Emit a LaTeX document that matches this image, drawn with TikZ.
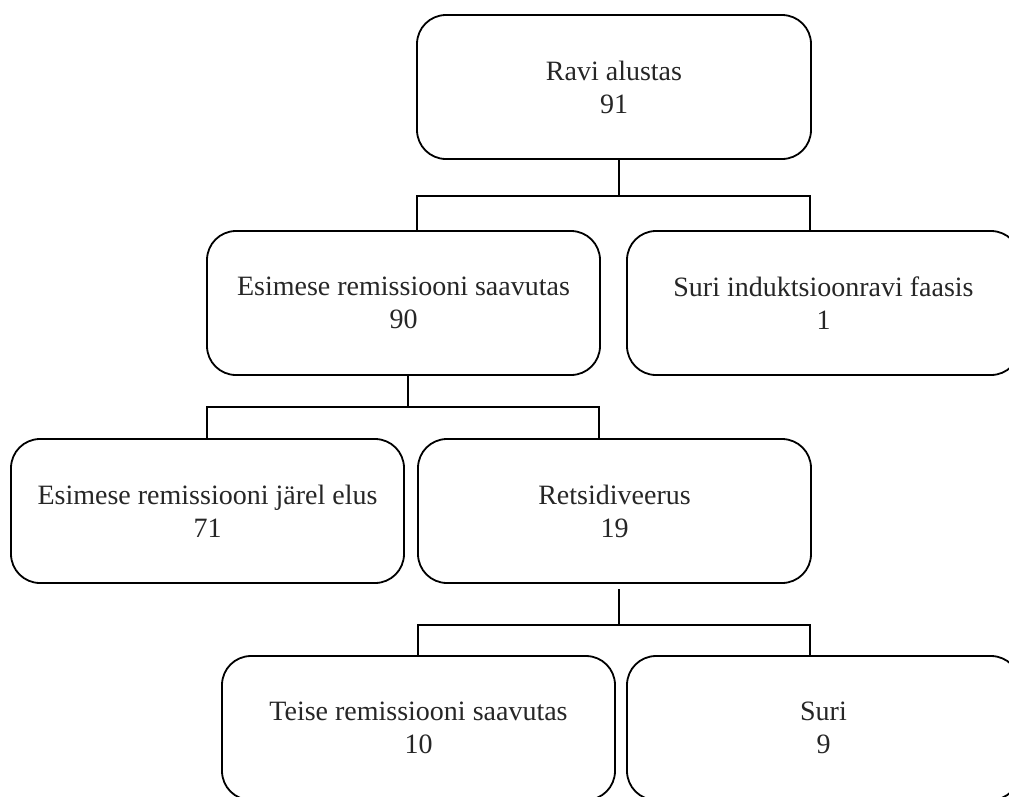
\documentclass[tikz,border=0pt]{standalone}
\usepackage{fontspec}
\setmainfont{Liberation Serif}
\begin{document}
\begin{tikzpicture}[x=1pt,y=-1pt,
  box/.style={draw=black, line width=1.8pt, rounded corners=29pt, minimum width=393pt, minimum height=144pt, inner sep=0pt, align=center, font=\fontsize{28}{33}\selectfont, text=black!85},
  conn/.style={draw=black, line width=1.8pt}]
\useasboundingbox (0,0) rectangle (1009,796);
\clip (0,0) rectangle (1009,796);
\fill[white] (0,0) rectangle (1009,796);
\node[box, minimum width=394pt] (b1) at (614,87) {Ravi alustas\\91};
\node[box] (b2) at (403.5,303) {Esimese remissiooni saavutas\\90};
\node[box] (b3) at (823.5,303) {Suri induktsioonravi faasis\\1};
\node[box] (b4) at (207.5,511) {Esimese remissiooni järel elus\\71};
\node[box] (b5) at (614.5,511) {Retsidiveerus\\19};
\node[box] (b6) at (418.5,728) {Teise remissiooni saavutas\\10};
\node[box] (b7) at (823.5,728) {Suri\\9};
% connector 1
\coordinate (t1) at (619,196);
\coordinate (l1) at (417,196);
\coordinate (r1) at (810,196);
\draw[conn] (t1 |- b1.south) -- (t1);
\draw[conn] (l1 |- b2.north) -- (l1) -- (r1) -- (r1 |- b3.north);
% connector 2
\coordinate (t2) at (408,407);
\coordinate (l2) at (207,407);
\coordinate (r2) at (599,407);
\draw[conn] (t2 |- b2.south) -- (t2);
\draw[conn] (l2 |- b4.north) -- (l2) -- (r2) -- (r2 |- b5.north);
% connector 3
\coordinate (t3) at (619,625);
\coordinate (s3) at (619,589);
\coordinate (l3) at (418,625);
\coordinate (r3) at (810,625);
\draw[conn] (s3) -- (t3);
\draw[conn] (l3 |- b6.north) -- (l3) -- (r3) -- (r3 |- b7.north);
\end{tikzpicture}
\end{document}
